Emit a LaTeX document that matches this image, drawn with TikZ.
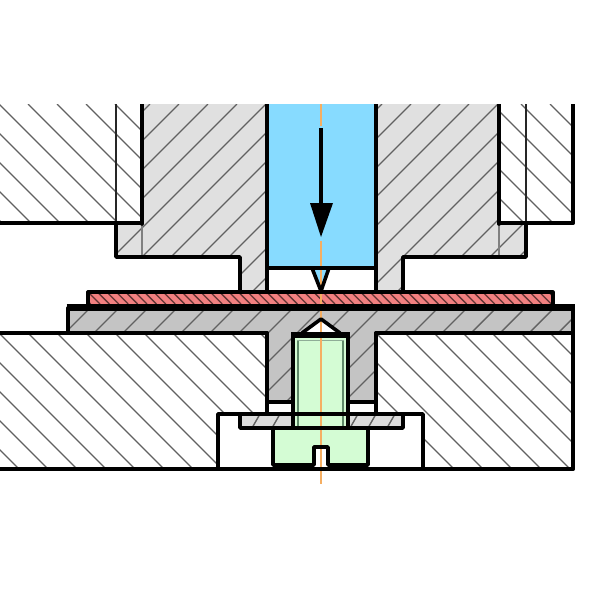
\documentclass[tikz,border=0pt]{standalone}
\definecolor{pinblue}{HTML}{87DBFF}
\definecolor{blockgray}{HTML}{E0E0E0}
\definecolor{plategray}{HTML}{C4C4C4}
\definecolor{washgray}{HTML}{DCDCDC}
\definecolor{sheetred}{HTML}{F28080}
\definecolor{screwgreen}{HTML}{D4FCD4}
\definecolor{axisorange}{HTML}{F5AE62}
\definecolor{threadgreen}{HTML}{5F8A6A}
\newcommand{\hatchback}[4]{% x-y=c+s*k, from y0 to y1, lines like "\"
  \foreach \k in {-45,...,45}{
    \pgfmathsetmacro{\xa}{#1+#2*\k+#3}
    \pgfmathsetmacro{\xb}{#1+#2*\k+#4}
    \draw[hatchline] (\xa,#3) -- (\xb,#4);
  }}
\newcommand{\hatchfwd}[4]{% x+y=c+s*k, lines like "/"
  \foreach \k in {-45,...,45}{
    \pgfmathsetmacro{\xa}{#1+#2*\k-#3}
    \pgfmathsetmacro{\xb}{#1+#2*\k-#4}
    \draw[hatchline] (\xa,#3) -- (\xb,#4);
  }}
\tikzset{
  heavy/.style={draw=black,line width=3.6pt,line cap=round,line join=round},
  mediumline/.style={draw=black,line width=3.2pt,line cap=round,line join=round},
  hatchline/.style={draw=black!62,line width=1.4pt},
  thinline/.style={draw=black!85,line width=1.5pt},
  seamline/.style={draw=black!50,line width=1.6pt},
  threadline/.style={draw=threadgreen,line width=1.8pt},
  axisline/.style={draw=axisorange,line width=2.2pt}
}
\begin{document}
\begin{tikzpicture}[x=1pt,y=-1pt]
\useasboundingbox (0,0) rectangle (600,600);
\fill[white] (0,0) rectangle (600,600);
\clip (0,104) rectangle (600,600);
% upper hatched blocks
\begin{scope}
\clip (0,104) rectangle (142,224);
\hatchback{-76}{29}{104}{224}
\end{scope}
\begin{scope}
\clip (499,104) rectangle (573,224);
\hatchback{-76}{29}{104}{224}
\end{scope}
% guide bushes
\fill[blockgray] (142,104) -- (267,104) -- (267,292) -- (240,292) -- (240,258) -- (116,258) -- (116,224) -- (142,224) -- cycle;
\fill[blockgray] (376,104) -- (499,104) -- (499,224) -- (526,224) -- (526,258) -- (403,258) -- (403,292) -- (376,292) -- cycle;
\begin{scope}
\clip (142,104) -- (267,104) -- (267,292) -- (240,292) -- (240,258) -- (116,258) -- (116,224) -- (142,224) -- cycle;
\hatchfwd{254}{29}{104}{292}
\end{scope}
\begin{scope}
\clip (376,104) -- (499,104) -- (499,224) -- (526,224) -- (526,258) -- (403,258) -- (403,292) -- (376,292) -- cycle;
\hatchfwd{254}{29}{104}{292}
\end{scope}
% lower hatched block
\begin{scope}
\clip (0,333) -- (267,333) -- (267,414) -- (218,414) -- (218,469) -- (0,469) -- cycle;
\hatchback{-305}{29}{333}{469}
\end{scope}
\begin{scope}
\clip (376,333) -- (573,333) -- (573,469) -- (423,469) -- (423,414) -- (376,414) -- cycle;
\hatchback{-305}{29}{333}{469}
\end{scope}
% punch
\fill[pinblue] (267,104) rectangle (376,268);
\fill[pinblue] (312,268) -- (329,268) -- (321,292) -- cycle;
% base plate with stem
\fill[plategray] (68,308) -- (573,308) -- (573,333) -- (376,333) -- (376,402) -- (267,402) -- (267,333) -- (68,333) -- cycle;
\begin{scope}
\clip (68,308) -- (573,308) -- (573,333) -- (376,333) -- (376,402) -- (267,402) -- (267,333) -- (68,333) -- cycle;
\hatchfwd{398}{29}{308}{402}
\end{scope}
% sheet
\fill[sheetred] (88,292) rectangle (553,304);
\begin{scope}
\clip (88,292) rectangle (553,304);
\foreach \k in {-5,...,55}{
  \pgfmathsetmacro{\xa}{88+9.4*\k}
  \pgfmathsetmacro{\xb}{88+9.4*\k+12}
  \draw[draw=black!60!sheetred,line width=1.3pt] (\xa,292) -- (\xb,304);
}
\end{scope}
% washer
\fill[washgray] (240,414) rectangle (403,428);
\foreach \xp in {252,272,350,368,387}{
  \pgfmathsetmacro{\xq}{\xp+8}
  \draw[hatchline] (\xp,428) -- (\xq,414);
}
% screw
\fill[white] (302,333) -- (321,319) -- (340,333) -- cycle;
\fill[screwgreen] (293,335) rectangle (348,428);
\fill[screwgreen] (273,428) -- (368,428) -- (368,465) -- (328,465) -- (328,447) -- (314,447) -- (314,465) -- (273,465) -- cycle;
\fill[white] (315,447) rectangle (327,468);
\draw[threadline] (298,341) -- (298,428);
\draw[threadline] (343,341) -- (343,428);
\draw[draw=threadgreen!70,line width=1pt] (297,340) -- (344,340);
% centre line
\draw[axisline] (321,104) -- (321,126);
\draw[axisline] (321,241) -- (321,484);
% thin lines
\draw[thinline] (116,104) -- (116,224);
\draw[thinline] (526,104) -- (526,224);
\draw[seamline] (142,224) -- (142,258);
\draw[seamline] (499,224) -- (499,258);
% outlines
\draw[heavy] (142,100) -- (142,224);
\draw[heavy] (267,100) -- (267,292);
\draw[heavy] (376,100) -- (376,292);
\draw[heavy] (499,100) -- (499,224);
\draw[heavy] (573,100) -- (573,223);
\draw[heavy] (0,223) -- (142,223);
\draw[heavy] (499,223) -- (573,223);
\draw[heavy] (116,223) -- (116,257) -- (240,257) -- (240,292);
\draw[heavy] (526,223) -- (526,257) -- (403,257) -- (403,292);
\draw[heavy] (267,268) -- (376,268);
\draw[heavy] (312,268) -- (321,291) -- (329,268);
% sheet and plate
\draw[mediumline] (88,304) -- (88,292) -- (553,292) -- (553,304);
\draw[draw=black,line width=7pt] (66.5,307.5) -- (575,307.5);
\draw[heavy] (68,308) -- (68,333);
\draw[heavy] (573,308) -- (573,469);
\draw[heavy] (0,333) -- (267,333);
\draw[heavy] (376,333) -- (573,333);
\draw[heavy] (267,333) -- (267,414);
\draw[heavy] (376,333) -- (376,414);
\draw[heavy] (267,402) -- (293,402);
\draw[heavy] (348,402) -- (376,402);
% counterbore
\draw[heavy] (0,469) -- (573,469);
\draw[heavy] (218,469) -- (218,414) -- (423,414) -- (423,469);
\draw[heavy] (240,414) -- (240,428) -- (403,428) -- (403,414);
% screw outlines
\draw[heavy] (302,333) -- (321,319) -- (340,333);
\draw[draw=black,line width=4pt,line join=miter] (293,428) -- (293,334) -- (348,334) -- (348,428);
\draw[draw=black,line width=2pt] (295,337) -- (346,337);
\draw[heavy] (273,428) -- (273,465) -- (314,465) -- (314,447) -- (328,447) -- (328,465) -- (368,465) -- (368,428);
% arrow
\draw[draw=black,line width=3.6pt] (321,128) -- (321,205);
\fill[black] (310,203) -- (333,203) -- (321,237) -- cycle;
\end{tikzpicture}
\end{document}
